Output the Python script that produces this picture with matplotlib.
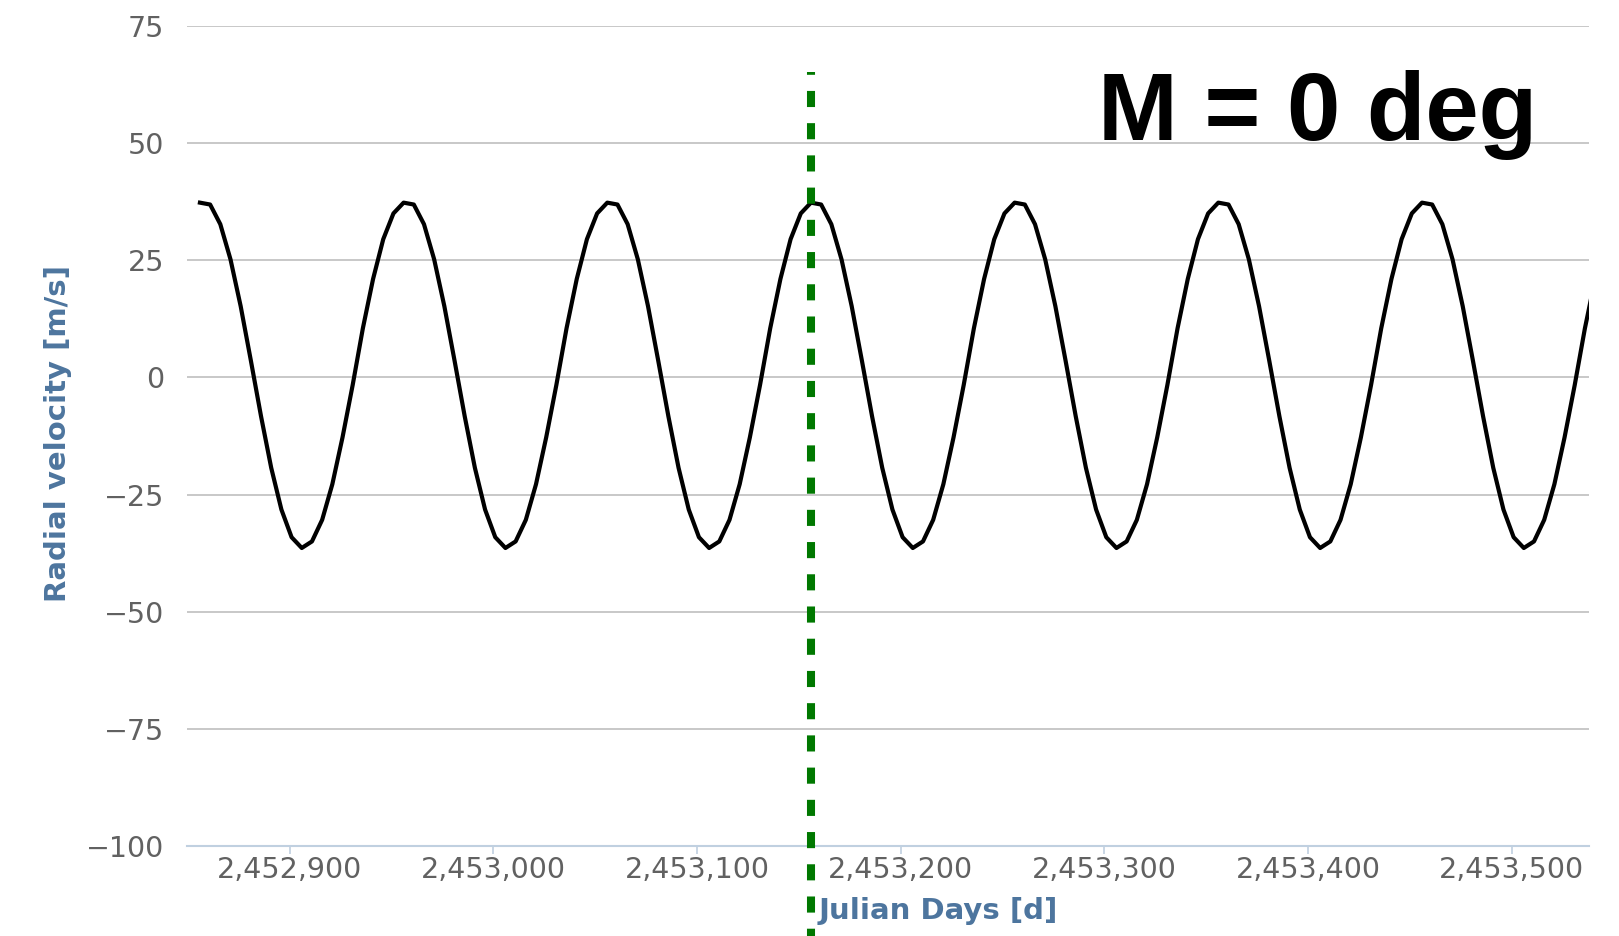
import numpy as np
import matplotlib
matplotlib.use("Agg")
import matplotlib.pyplot as plt
from matplotlib.ticker import FuncFormatter

# sample days of the model curve (every 5 days)
days = np.arange(2452856, 2453542, 5)

# radial velocity [m/s], one line per orbit
rv_values = [
    37.3, 36.9, 32.7, 25.2, 15.2, 3.6, -8.3, -19.3, -28.2, -34.1, -36.4, -35.0, -30.4, -22.8, -12.8, -1.6, 10.5, 21.0, 29.5, 35.0,
    37.3, 36.9, 32.7, 25.2, 15.2, 3.6, -8.3, -19.3, -28.2, -34.1, -36.4, -35.0, -30.4, -22.8, -12.8, -1.6, 10.5, 21.0, 29.5, 35.0,
    37.3, 36.9, 32.7, 25.2, 15.2, 3.6, -8.3, -19.3, -28.2, -34.1, -36.4, -35.0, -30.4, -22.8, -12.8, -1.6, 10.5, 21.0, 29.5, 35.0,
    37.3, 36.9, 32.7, 25.2, 15.2, 3.6, -8.3, -19.3, -28.2, -34.1, -36.4, -35.0, -30.4, -22.8, -12.8, -1.6, 10.5, 21.0, 29.5, 35.0,
    37.3, 36.9, 32.7, 25.2, 15.2, 3.6, -8.3, -19.3, -28.2, -34.1, -36.4, -35.0, -30.4, -22.8, -12.8, -1.6, 10.5, 21.0, 29.5, 35.0,
    37.3, 36.9, 32.7, 25.2, 15.2, 3.6, -8.3, -19.3, -28.2, -34.1, -36.4, -35.0, -30.4, -22.8, -12.8, -1.6, 10.5, 21.0, 29.5, 35.0,
    37.3, 36.9, 32.7, 25.2, 15.2, 3.6, -8.3, -19.3, -28.2, -34.1, -36.4, -35.0, -30.4, -22.8, -12.8, -1.6, 10.5, 21.0,
]

# epoch marker (green dotted line)
marker_day = 2453156.0

x_ticks = [2452900, 2453000, 2453100, 2453200, 2453300, 2453400, 2453500]
y_ticks = [-100, -75, -50, -25, 0, 25, 50, 75]

x_range = (2452849.5, 2453538)
y_range = (-100, 75)

label_gray = "#616161"
title_blue = "#4d759e"

W, H = 1619, 936
fig = plt.figure(figsize=(W / 100, H / 100), dpi=100)
ax = fig.add_axes([186.7 / W, 1 - 846 / H, (1589 - 186.7) / W, (846 - 26) / H])

# horizontal grid lines
for yv in y_ticks:
    ax.axhline(yv, color="#c8c8c8", lw=1.4, zorder=1)

ax.plot(days, rv_values, color="black", lw=3.0, solid_joinstyle="round", zorder=3)

# dashed green line runs past the axes bottom, down to the image edge
# (offset so the dash phase matches the original: short piece at the top)
ax.plot([marker_day, marker_day], [65.2, -125], color="#007800", lw=5.8,
        linestyle=(1.65, (2, 2)), clip_on=False, zorder=4)

ax.set_xlim(*x_range)
ax.set_ylim(*y_range)
ax.set_xticks(x_ticks)
ax.set_yticks(y_ticks)
ax.xaxis.set_major_formatter(FuncFormatter(lambda v, p: f"{int(v):,}"))
ax.set_yticklabels([str(v).replace("-", "\u2212") for v in y_ticks])

for side in ["top", "right", "left"]:
    ax.spines[side].set_visible(False)
ax.spines["bottom"].set_color("#c0d0e0")
ax.spines["bottom"].set_linewidth(1.5)

ax.tick_params(axis="x", colors="#c0d0e0", length=5.5, width=1.2, pad=2)
ax.tick_params(axis="y", length=0, pad=16)
for lab in ax.get_xticklabels() + ax.get_yticklabels():
    lab.set_color(label_gray)
    lab.set_fontsize(20.5)

# axis titles
fig.text(58 / W, 1 - 434 / H, "Radial velocity [m/s]", rotation=90, ha="center", va="center",
         fontsize=21, fontweight="bold", color=title_blue)
fig.text(819 / W, 1 - 911 / H, "Julian Days [d]", ha="left", va="center",
         fontsize=21, fontweight="bold", color=title_blue)

# big annotation
fig.text(1098 / W, 1 - 140 / H, "M = 0 deg", ha="left", va="baseline",
         fontsize=69, fontweight="bold", family="Liberation Sans", color="black")

fig.savefig("out.png", dpi=100)
